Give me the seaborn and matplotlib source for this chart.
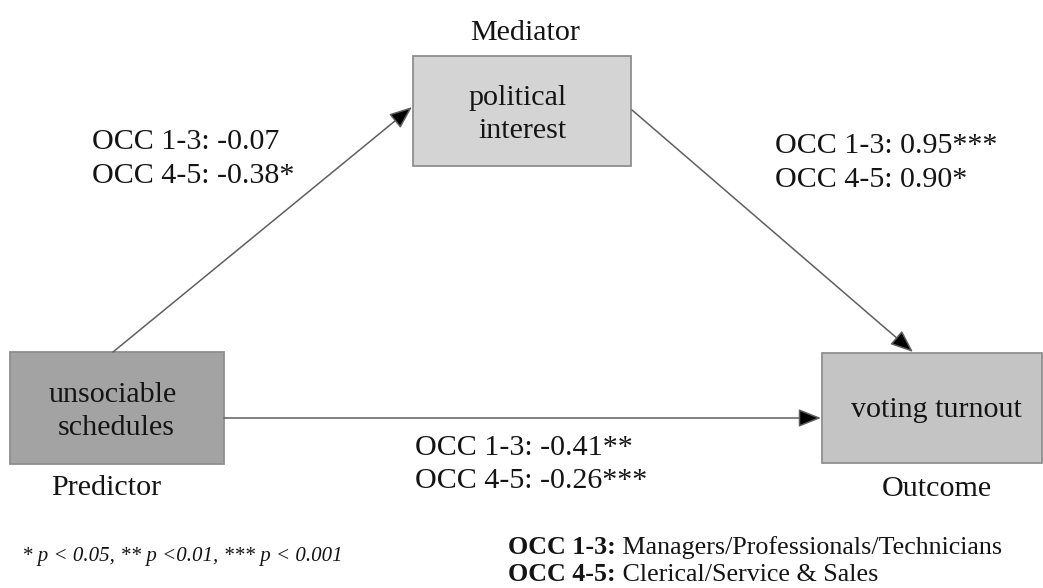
import matplotlib
matplotlib.use("Agg")
import matplotlib.pyplot as plt
from matplotlib.patches import Rectangle
import seaborn as sns
import pandas as pd

# ---------------- data ----------------
node_names = ["unsociable\nschedules", "political\ninterest", "voting turnout"]
node_roles = ["Predictor", "Mediator", "Outcome"]
groups = ["OCC 1-3", "OCC 4-5"]
coef_a = [-0.07, -0.38]          # predictor -> mediator
stars_a = ["", "*"]
coef_b = [0.95, 0.90]            # mediator -> outcome
stars_b = ["***", "*"]
coef_c = [-0.41, -0.26]          # predictor -> outcome (direct)
stars_c = ["**", "***"]
sig_note = "* p < 0.05, ** p <0.01, *** p < 0.001"
legend_keys = ["OCC 1-3:", "OCC 4-5:"]
legend_vals = ["Managers/Professionals/Technicians", "Clerical/Service & Sales"]

paths = pd.DataFrame({
    "path": ["a"] * 2 + ["b"] * 2 + ["c"] * 2,
    "group": groups * 3,
    "coef": coef_a + coef_b + coef_c,
    "stars": stars_a + stars_b + stars_c,
})

# ---------------- layout / style (pixel coordinates) ----------------
W, H = 1043, 588
boxes = {  # x0, y0, x1, y1
    "Predictor": (10, 352, 224, 464),
    "Mediator": (413, 56, 631, 166),
    "Outcome": (822, 353, 1042, 463),
}
box_fill = {"Predictor": "#a3a3a3", "Mediator": "#d4d4d4", "Outcome": "#c4c4c4"}
box_text = {  # (x, baseline) for each line
    "Predictor": [(113, 402), (116, 435)],
    "Mediator": [(518, 105), (522, 138)],
    "Outcome": [(936, 417)],
}
role_pos = {"Predictor": (106, 495), "Mediator": (525, 40), "Outcome": (937, 496)}
arrows = {  # start, end
    "a": ((113, 352), (412, 107)),
    "b": ((632, 110), (913, 352)),
    "c": ((224, 418), (821, 418)),
}
label_pos = {"a": (92, [149, 183]), "b": (775, [153, 187]), "c": (415, [455, 488])}

sns.set_theme(style="white")
plt.rcParams["font.family"] = ["Liberation Serif", "DejaVu Serif"]
TXT = "#141414"
FS = 21.6

fig = plt.figure(figsize=(W / 100, H / 100), dpi=100)
ax = fig.add_axes([0, 0, 1, 1])
ax.set_xlim(0, W)
ax.set_ylim(H, 0)
ax.axis("off")

# boxes
for role, name in zip(node_roles, node_names):
    x0, y0, x1, y1 = boxes[role]
    ax.add_patch(Rectangle((x0, y0), x1 - x0, y1 - y0, facecolor=box_fill[role],
                           edgecolor="#8f8f8f", lw=1.3, zorder=2))
    for line, (tx, ty) in zip(name.split("\n"), box_text[role]):
        ax.text(tx, ty, line, ha="center", va="baseline", fontsize=FS, color=TXT, zorder=3)
    rx, ry = role_pos[role]
    ax.text(rx, ry, role, ha="center", va="baseline", fontsize=FS, color=TXT)

# arrows
for key, (s, e) in arrows.items():
    ax.annotate("", xy=e, xytext=s,
                arrowprops=dict(arrowstyle="-|>,head_length=0.7,head_width=0.28",
                                mutation_scale=20, fc="black", ec="#5f5f5f", lw=1.1,
                                shrinkA=0, shrinkB=0), zorder=4)

# path labels
for key, sub in paths.groupby("path"):
    lx, lys = label_pos[key]
    for (g, c, st), ly in zip(sub[["group", "coef", "stars"]].values, lys):
        ax.text(lx, ly, f"{g}: {c:.2f}{st}", ha="left", va="baseline",
                fontsize=FS, color=TXT)

# significance note
ax.text(22, 561, sig_note, ha="left", va="baseline", fontsize=15, style="italic", color=TXT)

# group legend
for k, v, ly in zip(legend_keys, legend_vals, [554, 581]):
    t = ax.text(508, ly, k, ha="left", va="baseline", fontsize=18.7,
                fontweight="bold", color=TXT)
    ax.annotate(" " + v, xy=(1, 0), xycoords=t, ha="left", va="bottom",
                fontsize=18.7, color=TXT)

fig.savefig("out.png", dpi=100, facecolor="white")
